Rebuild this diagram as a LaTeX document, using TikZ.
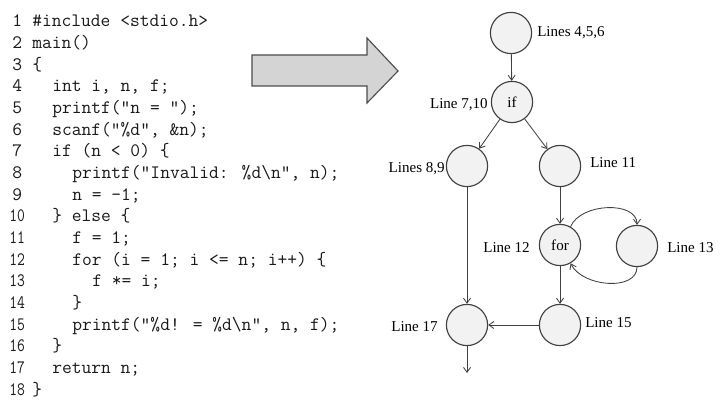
\documentclass[tikz,border=0pt]{standalone}
\usepackage{fontspec}
\setmainfont{Liberation Serif}
\usetikzlibrary{arrows.meta}
% baseline of code row #1
\newcommand{\ly}[1]{27+21.65*(#1-1)}

\begin{document}
\begin{tikzpicture}[x=0.025cm, y=-0.025cm, >={Straight Barb[length=3.5pt,width=5pt]},
  code/.style={anchor=base west, inner sep=0pt, font=\fontsize{13.5}{15}\ttfamily, text=black!90},
  blk/.style={circle, draw=black!75, fill=black!5, line width=0.8pt, minimum size=1.03cm, inner sep=0pt, font=\fontsize{10.7}{12}\selectfont},
  lbl/.style={inner sep=0pt, font=\fontsize{10.7}{12}\selectfont},
  bigarrow/.style={draw=black!70, fill=black!17, line width=0.8pt, line join=miter},
  arr/.style={->, draw=black!75, line width=0.6pt}]
  \fill[white] (0,0) rectangle (720,405);
  \useasboundingbox (0,0) rectangle (720,405);

  % source listing
  \foreach \i in {1,...,9}
    \node[code] (n\i) at (12,{\ly{\i}}) {\i};
  \foreach \i in {10,...,18}
    \node[code] (n\i) at (9,{\ly{\i}}) {\scalebox{0.8}[1]{\i}};
  \node[code] (c1)  at (32,{\ly{1}})  {\#include <stdio.h>};
  \node[code] (c2)  at (32,{\ly{2}})  {main()};
  \node[code] (c3)  at (32,{\ly{3}})  {\{};
  \node[code] (c4)  at (52,{\ly{4}})  {int i, n, f;};
  \node[code] (c5)  at (52,{\ly{5}})  {printf(“n = ");};
  \node[code] (c6)  at (52,{\ly{6}})  {scanf("\%d", \&n);};
  \node[code] (c7)  at (52,{\ly{7}})  {if (n < 0) \{};
  \node[code] (c8)  at (72,{\ly{8}})  {printf("Invalid: \%d\textbackslash n", n);};
  \node[code] (c9)  at (72,{\ly{9}})  {n = -1;};
  \node[code] (c10) at (52,{\ly{10}}) {\} else \{};
  \node[code] (c11) at (72,{\ly{11}}) {f = 1;};
  \node[code] (c12) at (72,{\ly{12}}) {for (i = 1; i <= n; i++) \{};
  \node[code] (c13) at (92,{\ly{13}}) {f *= i;};
  \node[code] (c14) at (72,{\ly{14}}) {\}};
  \node[code] (c15) at (72,{\ly{15}}) {printf("\%d! = \%d\textbackslash n", n, f);};
  \node[code] (c16) at (52,{\ly{16}}) {\}};
  \node[code] (c17) at (52,{\ly{17}}) {return n;};
  \node[code] (c18) at (32,{\ly{18}}) {\}};

  % block arrow
  \draw[bigarrow] (252,55) -- (367,55) -- (367,38) -- (398,71) -- (367,103) -- (367,86) -- (252,86) -- cycle;

  % flow graph
  \node[blk] (b456) at (511,33)  {};
  \node[blk] (b710) at (512,102) {if};
  \node[blk] (b89)  at (467,166) {};
  \node[blk] (b11)  at (560,166) {};
  \node[blk] (b12)  at (560,245) {for};
  \node[blk] (b13)  at (637,246) {};
  \node[blk] (b15)  at (560,325) {};
  \node[blk] (b17)  at (467,325) {};
  \coordinate (exit) at (467,373);

  \node[lbl, anchor=west] (t456) at (537,33)  {Lines 4,5,6};
  \node[lbl, anchor=east] (t710) at (488,105) {Line 7,10};
  \node[lbl, anchor=east] (t89)  at (445,169) {Lines 8,9};
  \node[lbl, anchor=west] (t11)  at (590,163) {Line 11};
  \node[lbl, anchor=east] (t12)  at (530,248) {Line 12};
  \node[lbl, anchor=west] (t13)  at (667,248) {Line 13};
  \node[lbl, anchor=west] (t15)  at (585,323) {Line 15};
  \node[lbl, anchor=east] (t17)  at (438,327) {Line 17};

  \draw[arr] (b456) -- (b710);
  \draw[arr] (b710) -- (b89);
  \draw[arr] (b710) -- (b11);
  \draw[arr] (b89) -- (b17);
  \draw[arr] (b11) -- (b12);
  \draw[arr] (b12.60) .. controls +(10,-24) and +(0,-24) .. (b13.north);
  \draw[arr] (b13.south) .. controls +(0,24) and +(12,24) .. (b12.-60);
  \draw[arr] (b12) -- (b15);
  \draw[arr] (b15) -- (b17);
  \draw[arr] (b17) -- (exit);
\end{tikzpicture}
\end{document}
